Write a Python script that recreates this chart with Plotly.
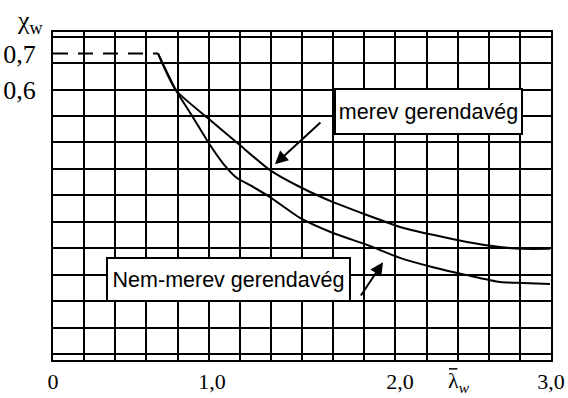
import plotly.graph_objects as go

# merev gerendavég (rigid beam end)
merev_x = [0.633, 0.741, 0.934, 1.127, 1.307, 1.488, 1.687, 1.892, 2.090, 2.289, 2.494, 2.693, 2.831, 2.994]
merev_y = [0.700, 0.598, 0.520, 0.445, 0.376, 0.329, 0.287, 0.251, 0.218, 0.196, 0.176, 0.162, 0.157, 0.157]

# Nem-merev gerendavég (non-rigid beam end)
nem_x = [0.633, 0.741, 0.843, 0.934, 1.024, 1.108, 1.187, 1.307, 1.488, 1.687, 1.892, 2.090, 2.289, 2.494, 2.693, 2.831, 2.994]
nem_y = [0.700, 0.598, 0.523, 0.454, 0.395, 0.354, 0.334, 0.301, 0.243, 0.201, 0.168, 0.132, 0.106, 0.084, 0.065, 0.062, 0.059]

# dashed reference at 0.7
dash_x = [0.0, 0.633]
dash_y = [0.70, 0.70]

x_tickvals = [0.0, 0.958, 2.09, 3.0]
x_ticktext = ["0", "1,0", "2,0", "3,0"]
y_tickvals = [0.6, 0.7]
y_ticktext = ["0,6", "0,7"]

serif = "Liberation Serif, Times New Roman, serif"
sans = "Liberation Sans, Arial, sans-serif"

fig = go.Figure()
fig.add_trace(go.Scatter(x=dash_x, y=dash_y, mode="lines",
                         line=dict(color="black", width=2, dash="15px,10px"),
                         showlegend=False, hoverinfo="skip"))
fig.add_trace(go.Scatter(x=merev_x, y=merev_y, mode="lines", name="merev gerendavég",
                         line=dict(color="black", width=2, shape="spline", smoothing=0.6),
                         showlegend=False))
fig.add_trace(go.Scatter(x=nem_x, y=nem_y, mode="lines", name="Nem-merev gerendavég",
                         line=dict(color="black", width=2, shape="spline", smoothing=0.6),
                         showlegend=False))

fig.update_xaxes(range=[0, 3.0], tickmode="array", tickvals=x_tickvals, ticktext=x_ticktext,
                 showgrid=False, zeroline=False, showline=True, mirror=True, automargin=False,
                 linecolor="black", linewidth=2, ticks="", ticklabelstandoff=1,
                 tickfont=dict(family=serif, size=22, color="black"),
                 minor=dict(tick0=0.0001, dtick=0.1875, showgrid=True,
                            gridcolor="black", gridwidth=1.5, ticks=""))
fig.update_yaxes(range=[-0.152, 0.76], tickmode="array", tickvals=y_tickvals, ticktext=y_ticktext,
                 showgrid=False, zeroline=False, showline=True, mirror=True, automargin=False,
                 linecolor="black", linewidth=2, ticks="", ticklabelstandoff=10,
                 tickfont=dict(family=serif, size=26, color="black"),
                 minor=dict(tick0=0.6001, dtick=0.0736, showgrid=True,
                            gridcolor="black", gridwidth=1.5, ticks=""))

fig.add_annotation(x=2.265, y=0.540, text="merev gerendavég", showarrow=False,
                   font=dict(family=sans, size=21.5, color="black"),
                   bgcolor="white", bordercolor="black", borderwidth=2, borderpad=1,
                   width=183, height=41)
fig.add_annotation(x=1.060, y=0.073, text="Nem-merev gerendavég", showarrow=False,
                   font=dict(family=sans, size=21.5, color="black"),
                   bgcolor="white", bordercolor="black", borderwidth=2, borderpad=1,
                   width=239, height=39)

fig.add_annotation(x=1.337, y=0.3925, ax=1.620, ay=0.512, axref="x", ayref="y",
                   text="", showarrow=True, arrowhead=2, arrowsize=1.3, arrowwidth=2,
                   arrowcolor="black")
fig.add_annotation(x=1.988, y=0.120, ax=1.849, ay=0.023, axref="x", ayref="y",
                   text="", showarrow=True, arrowhead=2, arrowsize=1.3, arrowwidth=2,
                   arrowcolor="black")

fig.add_annotation(xref="paper", yref="paper", x=-0.046, y=1.03, text="χ<sub>w</sub>",
                   showarrow=False, xanchor="center", yanchor="middle",
                   font=dict(family=serif, size=26, color="black"))
fig.add_annotation(xref="paper", yref="paper", x=0.789, y=-0.068, text="λ<sub><i>w</i></sub>",
                   showarrow=False, xanchor="left", yanchor="middle",
                   font=dict(family=serif, size=22, color="black"))
# macron bar over lambda
fig.add_shape(type="line", xref="paper", yref="paper", x0=0.795, x1=0.812, y0=-0.027, y1=-0.027,
              line=dict(color="black", width=1.5))

fig.update_layout(width=568, height=398, margin=dict(l=53, r=17, t=32, b=38),
                  paper_bgcolor="white", plot_bgcolor="white", showlegend=False)

fig.write_html("out.html")
